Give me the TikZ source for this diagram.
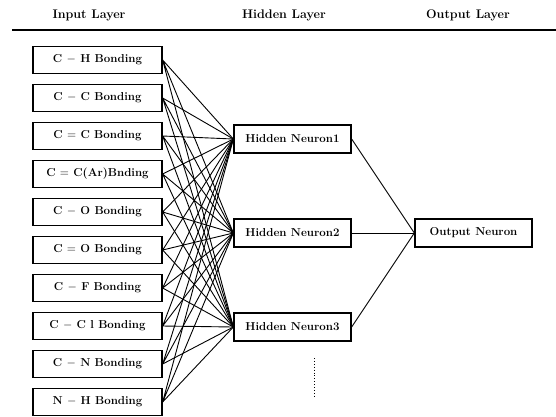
\documentclass[tikz,border=0pt]{standalone}
\usepackage{tikz}
\usetikzlibrary{arrows}
\usepackage{amsmath,amssymb}

\begin{document}
\begin{tikzpicture}[x=1pt,y=1pt]
\tikzstyle{every node}+=[inner sep=0pt, font=\fontsize{11.5}{13}\selectfont\bfseries]
\tikzstyle{title}=[font=\fontsize{12.5}{14}\selectfont\bfseries]
\tikzstyle{inbox}=[draw, line width=1.3pt, minimum width=129pt, minimum height=27pt]
\tikzstyle{hidbox}=[draw, line width=1.3pt, minimum width=117pt, minimum height=28pt]
\tikzstyle{link}=[line width=0.9pt]
\useasboundingbox (0,0) rectangle (556,-416);
% layer titles
\node [title] (tin) at (89,-15) {Input Layer};
\node [title] (thid) at (284,-15) {Hidden Layer};
\node [title] (tout) at (468,-15) {Output Layer};
\coordinate (rulel) at (12,-30);
\coordinate (ruler) at (556,-30);
\draw [line width=1.4pt] (rulel) -- (ruler);
% input layer
\node [inbox] (in1) at (97.5,-60) {C $-$ H Bonding};
\node [inbox] (in2) at (97.5,-98) {C $-$ C Bonding};
\node [inbox] (in3) at (97.5,-136) {C $=$ C Bonding};
\node [inbox] (in4) at (97.5,-174) {C $=$ C(Ar)Bnding};
\node [inbox] (in5) at (97.5,-212) {C $-$ O Bonding};
\node [inbox] (in6) at (97.5,-250) {C $=$ O Bonding};
\node [inbox] (in7) at (97.5,-288) {C $-$ F Bonding};
\node [inbox] (in8) at (97.5,-326) {C $-$ C l Bonding};
\node [inbox] (in9) at (97.5,-364) {C $-$ N Bonding};
\node [inbox] (in10) at (97.5,-402) {N $-$ H Bonding};
% hidden layer
\node [hidbox] (h1) at (292.5,-139) {Hidden Neuron1};
\node [hidbox] (h2) at (292.5,-233) {Hidden Neuron2};
\node [hidbox] (h3) at (292.5,-327) {Hidden Neuron3};
\coordinate (dots1) at (314,-358);
\coordinate (dots2) at (314,-398);
\draw [dotted, line width=0.9pt] (dots1) -- (dots2);
% output layer
\node [hidbox] (out) at (473.5,-233) {Output Neuron};
% input to hidden
\draw [link] (in1.east) -- (h1.west) (in1.east) -- (h2.west) (in1.east) -- (h3.west);
\draw [link] (in2.east) -- (h1.west) (in2.east) -- (h2.west) (in2.east) -- (h3.west);
\draw [link] (in3.east) -- (h1.west) (in3.east) -- (h2.west) (in3.east) -- (h3.west);
\draw [link] (in4.east) -- (h1.west) (in4.east) -- (h2.west) (in4.east) -- (h3.west);
\draw [link] (in5.east) -- (h1.west) (in5.east) -- (h2.west) (in5.east) -- (h3.west);
\draw [link] (in6.east) -- (h1.west) (in6.east) -- (h2.west) (in6.east) -- (h3.west);
\draw [link] (in7.east) -- (h1.west) (in7.east) -- (h2.west) (in7.east) -- (h3.west);
\draw [link] (in8.east) -- (h1.west) (in8.east) -- (h2.west) (in8.east) -- (h3.west);
\draw [link] (in9.east) -- (h1.west) (in9.east) -- (h2.west) (in9.east) -- (h3.west);
\draw [link] (in10.east) -- (h1.west) (in10.east) -- (h2.west) (in10.east) -- (h3.west);
% hidden to output
\draw [link] (h1.east) -- (out.west);
\draw [link] (h2.east) -- (out.west);
\draw [link] (h3.east) -- (out.west);
\end{tikzpicture}
\end{document}
